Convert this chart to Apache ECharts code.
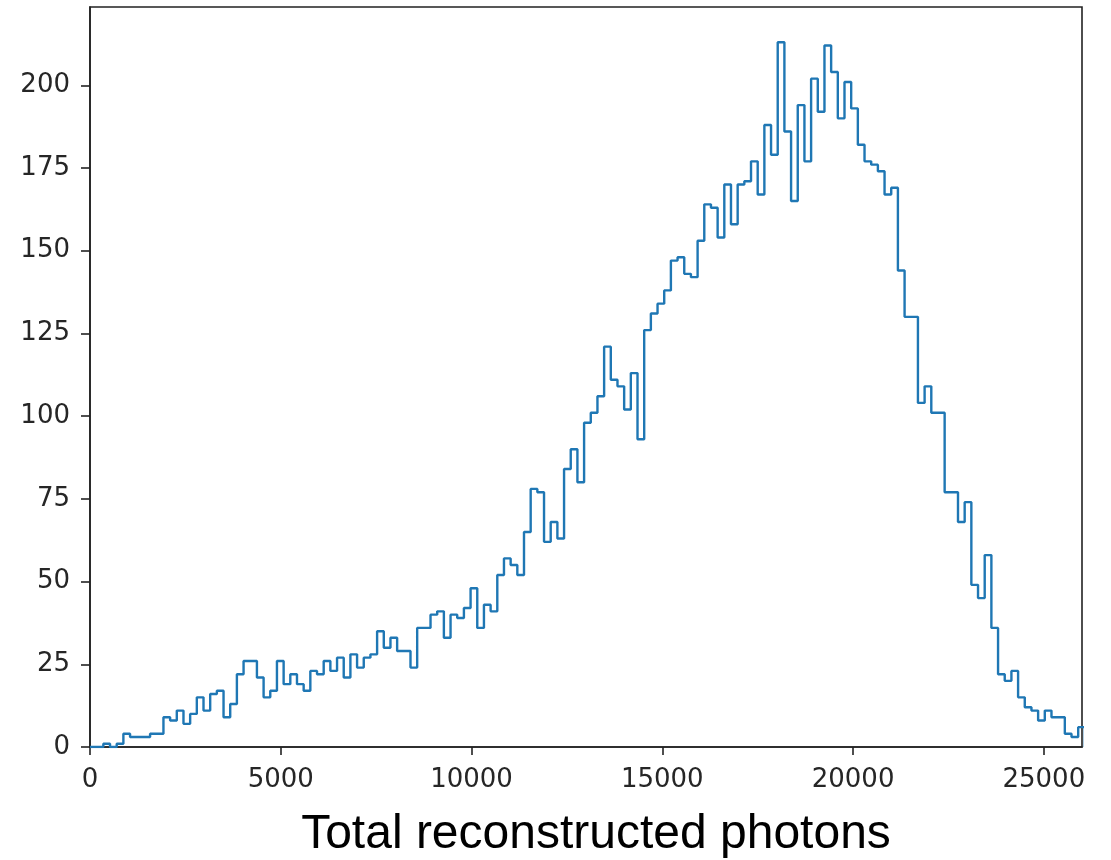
<!DOCTYPE html>
<html>
<head>
<meta charset="utf-8">
<title>Total reconstructed photons</title>
<script src="https://cdn.jsdelivr.net/npm/echarts@6/dist/echarts.min.js"></script>
<style>
  html, body { margin: 0; padding: 0; background: #ffffff; }
  #chart { width: 1111px; height: 860px; }
</style>
</head>
<body>
<div id="chart"></div>
<script>
// Histogram of total reconstructed photons per event: equal-width bins starting at 0
const binStart = 0;
const binWidth = 175;
const counts = [
  0, 0, 1, 0, 1, 4, 3, 3, 3, 4,
  4, 9, 8, 11, 7, 10, 15, 11, 16, 17,
  9, 13, 22, 26, 26, 21, 15, 17, 26, 19,
  22, 19, 17, 23, 22, 26, 23, 27, 21, 28,
  24, 27, 28, 35, 30, 33, 29, 29, 24, 36,
  36, 40, 41, 33, 40, 39, 42, 48, 36, 43,
  41, 52, 57, 55, 52, 65, 78, 77, 62, 68,
  63, 84, 90, 80, 98, 101, 106, 121, 111, 109,
  102, 113, 93, 126, 131, 134, 138, 147, 148, 143,
  142, 153, 164, 163, 154, 170, 158, 170, 171, 177,
  167, 188, 179, 213, 186, 165, 194, 177, 202, 192,
  212, 204, 190, 201, 193, 182, 177, 176, 174, 167,
  169, 144, 130, 130, 104, 109, 101, 101, 77, 77,
  68, 74, 49, 45, 58, 36, 22, 20, 23, 15,
  12, 11, 8, 11, 9, 9, 4, 3, 6
];

const xTicks = [0, 5000, 10000, 15000, 20000, 25000];
const yTicks = [0, 25, 50, 75, 100, 125, 150, 175, 200];
const xMax = 26000;
// matplotlib-style 5% headroom above the tallest bin
const yMax = Math.max(...counts) * 1.05;

// Step outline of the histogram (histtype="step"): up the left edge of each bin,
// across its top, and back down to zero after the last bin.
const outline = [[binStart, 0]];
counts.forEach((c, i) => {
  const left = binStart + i * binWidth;
  outline.push([left, c]);
  outline.push([left + binWidth, c]);
});
outline.push([binStart + counts.length * binWidth, 0]);

const axisColor = '#222222';
const tickFont = {
  fontFamily: 'DejaVu Sans',
  fontSize: 26,
  color: '#262626'
};
const plainNumber = (v) => String(v);

const chart = echarts.init(document.getElementById('chart'), null, { renderer: 'canvas' });
chart.setOption({
  animation: false,
  backgroundColor: '#ffffff',
  grid: {
    left: 90, right: 29, top: 7, bottom: 113,
    outerBoundsMode: 'none',
    containLabel: false,
    show: true,
    borderColor: axisColor,
    borderWidth: 1.6,
    backgroundColor: 'transparent'
  },
  xAxis: {
    type: 'value',
    min: 0,
    max: xMax,
    name: 'Total reconstructed photons',
    nameLocation: 'middle',
    nameGap: 64,
    nameTextStyle: {
      fontFamily: 'Liberation Sans',
      fontSize: 48,
      color: '#000000',
      padding: [0, 0, 0, 20]
    },
    axisLine: { show: true, onZero: false, lineStyle: { color: axisColor, width: 1.6 } },
    axisTick: { show: true, length: 8, customValues: xTicks, lineStyle: { color: axisColor, width: 1.6 } },
    axisLabel: Object.assign({ margin: 20, customValues: xTicks, formatter: plainNumber }, tickFont),
    splitLine: { show: false }
  },
  yAxis: {
    type: 'value',
    min: 0,
    max: yMax,
    axisLine: { show: true, onZero: false, lineStyle: { color: axisColor, width: 1.6 } },
    axisTick: { show: true, length: 9, customValues: yTicks, lineStyle: { color: axisColor, width: 1.6 } },
    axisLabel: Object.assign({ margin: 20, customValues: yTicks, formatter: plainNumber }, tickFont),
    splitLine: { show: false }
  },
  series: [{
    type: 'line',
    data: outline,
    showSymbol: false,
    symbol: 'none',
    clip: true,
    lineStyle: { color: '#1f77b4', width: 2.4 },
    emphasis: { disabled: true }
  }]
});
</script>
</body>
</html>
